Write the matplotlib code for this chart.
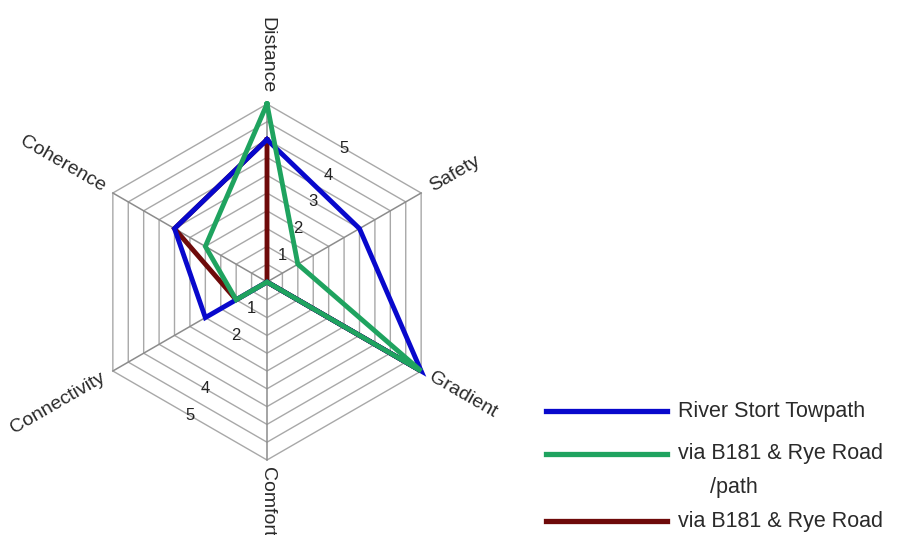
import numpy as np
import matplotlib
matplotlib.use('Agg')
import matplotlib.pyplot as plt

plt.rcParams['font.family'] = ['Liberation Sans', 'DejaVu Sans']

# Datos
categories = ['Distance', 'Safety', 'Gradient', 'Comfort', 'Connectivity', 'Coherence']
river_stort = [4, 3, 5, 0, 2, 3]
b181_path = [5, 1, 5, 0, 1, 2]
b181_road = [4, 0, 5, 0, 1, 3]
tick_upper = [1, 2, 3, 4, 5]
tick_lower = [1, 2, 4, 5]
series_names = ['River Stort Towpath', 'via B181 & Rye Road', 'via B181 & Rye Road']
colors = ['#0808cc', '#1fa35f', '#6e0a0a']

r_max = 5
angles = np.deg2rad([90, 30, -30, -90, -150, 150])

def to_xy(vals):
    vals = np.asarray(vals, dtype=float)
    x = vals * np.cos(angles)
    y = vals * np.sin(angles)
    return np.append(x, x[0]), np.append(y, y[0])

fig = plt.figure(figsize=(9, 5.35), dpi=100)
ax = fig.add_axes([0, 0, 1, 1])
scale = 178 / r_max  # px por unidad
ax.set_xlim(-267 / scale, (900 - 267) / scale)
ax.set_ylim(-(535 - 282) / scale, 282 / scale)
ax.axis('off')

# Rejilla hexagonal
for k in np.arange(0.5, r_max + 0.01, 0.5):
    gx, gy = to_xy([k] * 6)
    ax.plot(gx, gy, color='#a8a8a8', lw=1.0, zorder=1)
for a in angles:
    ax.plot([0, r_max * np.cos(a)], [0, r_max * np.sin(a)], color='#8c8c8c', lw=1.1, zorder=1)

# Etiquetas de escala
mid = r_max * np.cos(np.pi / 6)
for t in tick_upper:
    d = t / r_max * mid
    ax.text(d * np.cos(np.deg2rad(60)), d * np.sin(np.deg2rad(60)), str(t),
            fontsize=12, ha='center', va='center', color='#222222', zorder=2)
for t in tick_lower:
    d = t / r_max * mid
    ax.text(d * np.cos(np.deg2rad(240)), d * np.sin(np.deg2rad(240)), str(t),
            fontsize=12, ha='center', va='center', color='#222222', zorder=2)

# Etiquetas de ejes
gap = 0.3
for name, a in zip(categories, np.rad2deg(angles)):
    rr = r_max + gap
    x, y = rr * np.cos(np.deg2rad(a)), rr * np.sin(np.deg2rad(a))
    if a == 90:
        rot, ha = -90, 'right'
    elif a == -90:
        rot, ha = -90, 'left'
        x, y = 0, -(r_max + 0.2)
    elif -90 < a < 90:
        rot, ha = a, 'left'
    else:
        rot, ha = a - 180 if a > 0 else a + 180, 'right'
    ax.text(x, y, name, rotation=rot, rotation_mode='anchor', ha=ha, va='center',
            fontsize=14, color='#2a2a2a')

# Series
for vals, c, z in [(b181_road, colors[2], 3), (river_stort, colors[0], 4), (b181_path, colors[1], 5)]:
    px, py = to_xy(vals)
    ax.plot(px, py, color=c, lw=3.5, zorder=z, solid_joinstyle='miter')

# Leyenda
def fx(p):
    return p / 900
def fy(p):
    return 1 - p / 535

leg_rows = [411, 454, 521]
for name, c, yy in zip(series_names, colors, leg_rows):
    ax.plot([fx(546), fx(667)], [fy(yy), fy(yy)], color=c, lw=3.8,
            transform=ax.transAxes, clip_on=False)
    ax.text(fx(678), fy(yy), name, transform=ax.transAxes, fontsize=15.5,
            va='center', ha='left', color='#2a2a2a')
ax.text(fx(710), fy(487), '/path', transform=ax.transAxes, fontsize=15.5,
        va='center', ha='left', color='#2a2a2a')

fig.savefig('out.png', dpi=100)
